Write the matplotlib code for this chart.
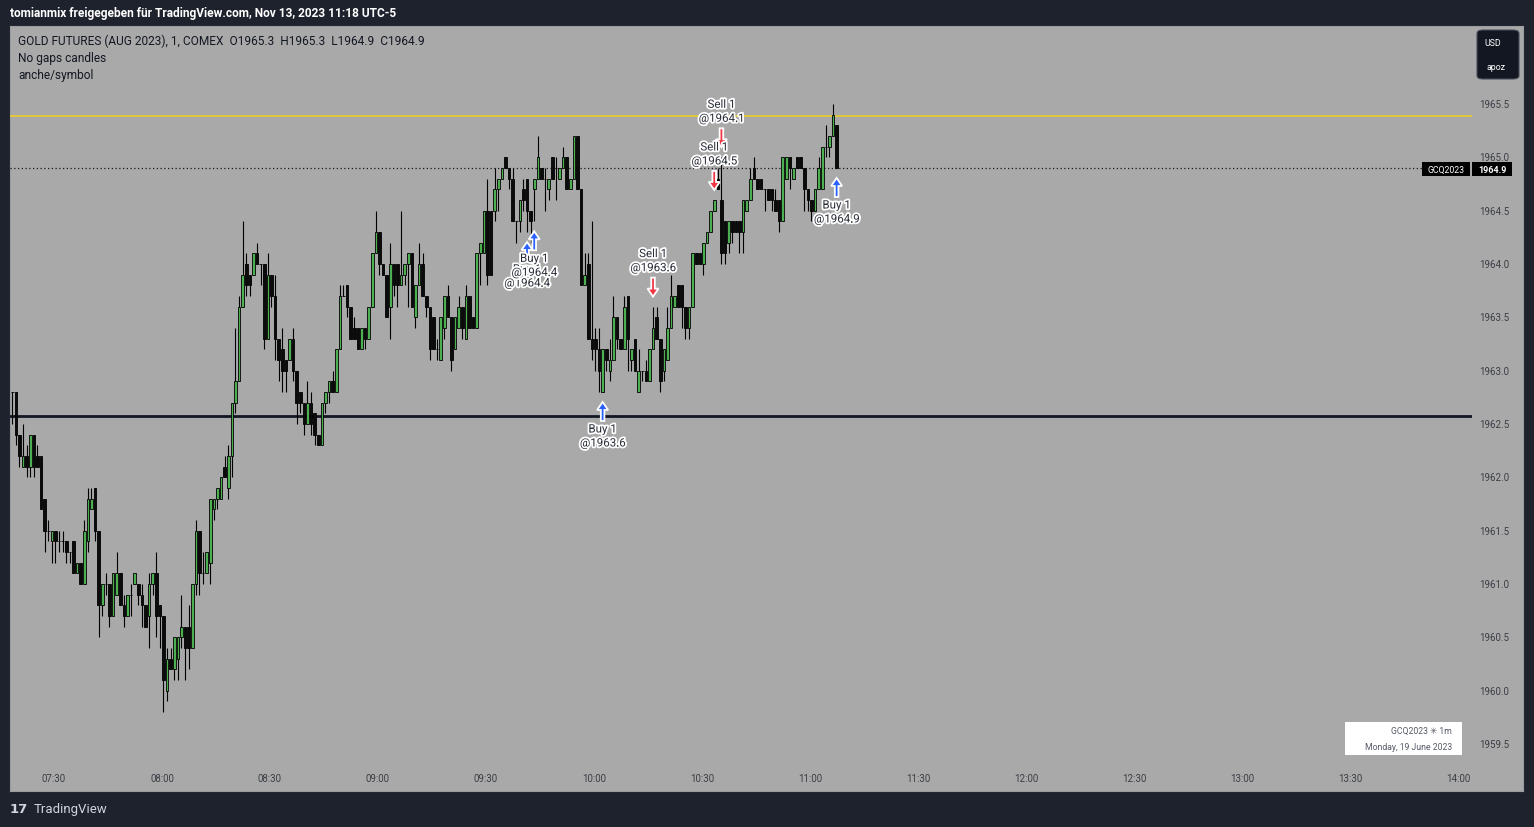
import matplotlib
matplotlib.use("Agg")
import matplotlib.pyplot as plt
import matplotlib.patheffects as pe
from matplotlib.patches import Rectangle, Polygon, FancyBboxPatch
import numpy as np

plt.rcParams['font.family'] = ['Roboto', 'DejaVu Sans']

# ---------------- data (1-minute candles, GCQ2023, 19 June 2023, from 07:18) ----------------
start_minute = -12          # minutes relative to 07:30 of the first candle
opens = [1962.8,1962.8,1962.4,1962.1,1962.2,1962.1,1962.4,1962.2,1962.2,1961.8,
         1961.5,1961.4,1961.5,1961.4,1961.4,1961.4,1961.3,1961.4,1961.1,1961.2,
         1961.0,1961.4,1961.7,1961.9,1961.5,1960.8,1961.0,1961.0,1960.7,1960.9,
         1961.1,1960.8,1960.7,1960.9,1961.0,1961.0,1960.9,1960.8,
         1960.7,1961.0,1961.1,1960.8,1960.7,1960.0,1960.3,1960.2,1960.3,1960.5,
         1960.6,1960.6,1960.4,1961.0,1961.5,1961.1,1961.1,1961.2,1961.7,1961.8,
         1961.8,1962.1,1961.9,1962.2,1962.7,1962.9,1963.6,1964.0,1963.9,1963.9,
         1964.1,1964.0,1964.0,1963.3,1963.9,1963.7,1963.3,1963.2,1963.1,1963.1,
         1963.3,1963.0,1962.8,1962.7,1962.5,1962.7,1962.6,1962.4,1962.3,1962.7,
         1962.8,1962.9,1962.8,1963.2,1963.7,1963.8,1963.6,1963.4,1963.4,1963.2,
         1963.4,1963.3,1963.6,1964.1,1964.3,1964.0,1963.9,1963.6,1964.0,1964.0,
         1963.8,1963.9,1964.0,1964.1,1963.5,1963.8,1964.0,1963.7,1963.6,
         1963.5,1963.2,1963.1,1963.4,1963.7,1963.5,1963.2,1963.4,1963.6,1963.3,
         1963.7,1963.5,1963.4,1964.1,1964.1,1964.5,1964.5,1964.5,1964.7,1964.8,
         1965.0,1964.9,1964.8,1964.4,1964.4,1964.7,1964.8,1964.5,1964.7,1964.8,
         1964.9,1964.8,1964.7,1965.0,1964.9,1964.8,1964.9,1965.0,1964.7,1964.8,
         1965.2,1964.7,1963.8,1964.0,
         1963.3,1963.3,1963.2,1962.8,1963.2,1963.0,1963.1,1963.5,1963.3,1963.2,
         1963.7,1963.1,1963.3,1962.8,1963.0,1963.0,1962.9,1963.2,1963.5,1963.3,
         1963.0,1963.1,1963.4,1963.6,1963.8,1963.8,1963.6,1963.4,1963.6,1964.1,
         1964.1,1964.0,1964.2,1964.3,1964.5,
         1964.8,1964.6,1964.4,1964.2,1964.4,1964.4,1964.4,1964.3,1964.5,1964.6,
         1964.9,1964.8,1964.8,1964.7,1964.7,1964.7,1964.6,1964.6,1964.4,1964.8,
         1965.0,1964.8,1965.0,1965.0,1964.9,1964.7,1964.6,1964.5,1964.7,1964.7,
         1965.1,1965.1,1965.2,1965.3]
highs = [1962.8,1962.8,1962.4,1962.5,1962.3,1962.4,1962.4,1962.3,1962.2,1961.8,
         1961.6,1961.5,1961.5,1961.5,1961.5,1961.4,1961.3,1961.4,1961.2,1961.2,
         1961.6,1961.9,1961.9,1961.9,1961.5,1961.0,1961.1,1961.0,1961.1,1961.3,
         1961.1,1960.9,1960.9,1961.0,1961.1,1961.0,1961.0,1960.8,
         1961.1,1961.1,1961.3,1960.8,1960.7,1960.4,1960.4,1960.5,1960.5,1960.9,
         1960.6,1960.8,1961.0,1961.6,1961.5,1961.3,1961.3,1961.8,1961.8,1961.9,
         1962.0,1962.2,1962.3,1962.7,1963.4,1963.7,1964.4,1964.1,1963.9,1964.1,
         1964.2,1964.0,1964.0,1964.1,1963.9,1963.9,1963.3,1963.4,1963.1,1963.3,
         1963.4,1963.0,1962.8,1962.7,1962.9,1962.8,1962.6,1962.4,1962.7,1962.8,
         1962.9,1963.0,1963.2,1963.8,1963.8,1963.8,1963.6,1963.5,1963.4,1963.4,
         1963.4,1963.6,1964.1,1964.5,1964.3,1964.0,1963.9,1964.2,1964.0,1964.0,
         1964.5,1964.0,1964.1,1964.1,1963.8,1964.2,1964.1,1963.7,1963.6,
         1963.5,1963.3,1963.5,1963.7,1963.8,1963.5,1963.5,1963.7,1963.6,1963.8,
         1963.7,1963.5,1964.1,1964.2,1964.5,1964.8,1964.5,1964.9,1964.8,1964.9,
         1965.0,1964.9,1964.9,1964.4,1964.6,1964.8,1964.8,1964.5,1964.8,1965.2,
         1964.9,1964.9,1964.8,1965.0,1965.0,1964.9,1965.1,1965.0,1964.8,1965.2,
         1965.2,1964.7,1964.1,1964.1,
         1964.4,1963.4,1963.4,1963.2,1963.2,1963.3,1963.7,1963.5,1963.3,1963.7,
         1963.7,1963.2,1963.3,1963.2,1963.0,1963.1,1963.2,1963.6,1963.6,1963.3,
         1963.2,1963.6,1963.9,1963.7,1963.8,1963.8,1963.6,1963.6,1964.1,1964.1,
         1964.1,1964.2,1964.3,1964.5,1964.6,
         1964.9,1965.0,1964.4,1964.4,1964.4,1964.4,1964.4,1964.6,1964.6,1964.9,
         1965.0,1964.8,1964.8,1964.7,1964.7,1964.7,1964.7,1964.6,1965.0,1965.0,
         1965.0,1964.9,1965.0,1965.0,1964.9,1964.7,1964.6,1964.7,1965.0,1965.1,
         1965.3,1965.2,1965.5,1965.3]
lows =  [1962.5,1962.3,1962.1,1962.1,1962.0,1962.0,1962.0,1962.1,1961.7,1961.3,
         1961.4,1961.2,1961.2,1961.3,1961.3,1961.2,1961.2,1961.1,1961.1,1961.0,
         1961.0,1961.3,1961.7,1961.4,1960.5,1960.7,1960.9,1960.6,1960.7,1960.9,
         1960.8,1960.6,1960.7,1960.7,1961.0,1960.8,1960.6,1960.6,
         1960.4,1960.9,1960.5,1960.4,1959.8,1959.9,1960.2,1960.1,1960.1,1960.4,
         1960.1,1960.2,1960.4,1960.9,1960.9,1961.0,1961.1,1961.0,1961.6,1961.7,
         1961.8,1962.0,1961.8,1962.0,1962.6,1962.9,1963.6,1963.7,1963.7,1963.9,
         1964.0,1963.8,1963.2,1963.3,1963.6,1963.1,1962.9,1962.8,1962.8,1963.1,
         1962.9,1962.5,1962.6,1962.4,1962.5,1962.4,1962.3,1962.3,1962.3,1962.6,
         1962.7,1962.8,1962.8,1963.2,1963.7,1963.5,1963.3,1963.3,1963.2,1963.2,
         1963.2,1963.3,1963.6,1964.1,1963.9,1963.9,1963.5,1963.3,1963.7,1963.6,
         1963.8,1963.8,1963.6,1963.6,1963.4,1963.8,1963.7,1963.5,1963.1,
         1963.2,1963.1,1963.1,1963.3,1963.5,1963.0,1963.2,1963.4,1963.3,1963.3,
         1963.4,1963.4,1963.4,1963.8,1964.1,1963.8,1963.9,1964.4,1964.5,1964.8,
         1964.9,1964.7,1964.4,1964.2,1964.3,1964.5,1964.3,1964.2,1964.4,1964.8,
         1964.8,1964.5,1964.6,1964.8,1964.6,1964.8,1964.9,1964.7,1964.7,1964.8,
         1964.7,1963.8,1963.8,1963.3,
         1963.1,1963.0,1962.8,1962.8,1963.0,1962.9,1963.1,1963.2,1963.2,1963.2,
         1963.0,1963.0,1963.0,1962.8,1962.9,1962.9,1962.9,1963.2,1963.3,1962.8,
         1962.9,1963.1,1963.4,1963.6,1963.6,1963.4,1963.3,1963.3,1963.6,1964.0,
         1964.0,1963.9,1964.2,1964.3,1964.5,
         1964.7,1964.0,1964.0,1964.1,1964.2,1964.3,1964.1,1964.1,1964.5,1964.6,
         1964.8,1964.7,1964.7,1964.5,1964.6,1964.5,1964.5,1964.3,1964.4,1964.8,
         1964.7,1964.8,1964.9,1964.9,1964.5,1964.5,1964.4,1964.5,1964.7,1964.7,
         1965.0,1965.0,1965.2,1964.9]
closes = [1962.8,1962.4,1962.2,1962.2,1962.1,1962.4,1962.1,1962.1,1961.7,1961.5,
          1961.5,1961.5,1961.4,1961.4,1961.4,1961.3,1961.3,1961.1,1961.2,1961.0,
          1961.5,1961.8,1961.8,1961.5,1960.8,1961.0,1961.0,1960.7,1961.1,1961.1,
          1960.8,1960.7,1960.9,1960.9,1961.1,1960.9,1960.8,1960.6,
          1961.0,1961.1,1960.7,1960.7,1960.1,1960.3,1960.2,1960.5,1960.5,1960.6,
          1960.4,1960.4,1961.0,1961.5,1961.1,1961.1,1961.3,1961.8,1961.8,1961.9,
          1962.0,1962.0,1962.2,1962.7,1962.9,1963.6,1963.9,1963.8,1963.8,1964.1,
          1964.0,1964.0,1963.3,1963.9,1963.7,1963.3,1963.1,1963.0,1963.0,1963.3,
          1963.0,1962.7,1962.7,1962.5,1962.7,1962.5,1962.4,1962.3,1962.7,1962.8,
          1962.9,1962.8,1963.2,1963.7,1963.7,1963.6,1963.3,1963.3,1963.2,1963.4,
          1963.3,1963.6,1964.1,1964.3,1964.0,1963.9,1963.5,1964.0,1963.8,1963.8,
          1963.9,1964.0,1964.1,1963.6,1963.8,1964.0,1963.7,1963.6,1963.2,
          1963.2,1963.2,1963.5,1963.7,1963.5,1963.1,1963.5,1963.6,1963.4,1963.7,
          1963.4,1963.4,1964.1,1964.2,1964.5,1963.9,1963.9,1964.7,1964.8,1964.9,
          1964.9,1964.8,1964.4,1964.4,1964.6,1964.6,1964.5,1964.4,1964.8,1965.0,
          1964.8,1964.8,1964.8,1964.8,1964.9,1964.9,1965.0,1964.7,1964.8,1965.2,
          1964.7,1963.8,1963.9,1963.3,
          1963.2,1963.2,1963.0,1963.2,1963.1,1963.1,1963.5,1963.3,1963.2,1963.6,
          1963.3,1963.2,1963.0,1963.0,1963.0,1962.9,1963.2,1963.4,1963.3,1962.9,
          1963.2,1963.4,1963.7,1963.7,1963.6,1963.6,1963.4,1963.6,1964.1,1964.0,
          1964.0,1964.2,1964.3,1964.5,1964.6,
          1964.7,1964.1,1964.1,1964.4,1964.3,1964.3,1964.3,1964.6,1964.6,1964.8,
          1964.8,1964.7,1964.7,1964.7,1964.6,1964.6,1964.5,1964.4,1965.0,1965.0,
          1964.9,1964.9,1964.9,1964.9,1964.7,1964.6,1964.5,1964.7,1964.9,1965.1,
          1965.1,1965.2,1965.4,1964.9]

# trade signals: candle index, side, fill price
sig_index = [143, 145, 164, 178, 195, 197, 229]
sig_side  = ['Buy', 'Buy', 'Buy', 'Sell', 'Sell', 'Sell', 'Buy']
sig_price = [1964.4, 1964.4, 1963.6, 1963.6, 1964.5, 1964.1, 1964.9]

level_yellow = 1965.39
level_black = 1962.57
last_price = 1964.9
price_ticks = [1959.5, 1960.0, 1960.5, 1961.0, 1961.5, 1962.0, 1962.5,
               1963.0, 1963.5, 1964.0, 1964.5, 1965.0, 1965.5]
time_ticks = [0, 30, 60, 90, 120, 150, 180, 210, 240, 270, 300, 330, 360, 390]
time_labels = ['07:30', '08:00', '08:30', '09:00', '09:30', '10:00', '10:30',
               '11:00', '11:30', '12:00', '12:30', '13:00', '13:30', '14:00']

# ---------------- layout ----------------
W, H = 1534, 828
DARK = '#1e222d'
PANEL = '#a9a9a9'
fig = plt.figure(figsize=(W / 100, H / 100), dpi=100)
fig.patch.set_facecolor(DARK)

def fx(px):
    return px / W

def fy(py):
    return 1 - py / H

# gray panel
panel = fig.add_axes([fx(10), fy(792), fx(1523) - fx(10), fy(27) - fy(792)])
panel.set_facecolor(PANEL)
panel.set_xticks([]); panel.set_yticks([])
for s in panel.spines.values():
    s.set_color('#9a9ca2'); s.set_linewidth(0.8)

ax = fig.add_axes([fx(10), fy(792), fx(1472) - fx(10), fy(27) - fy(792)])
ax.set_facecolor('none')
x0, x1 = -12.22, 393.9
y0, y1 = 1959.059, 1966.231
ax.set_xlim(x0, x1)
ax.set_ylim(y0, y1)
ax.set_xticks([]); ax.set_yticks([])
for s in ax.spines.values():
    s.set_visible(False)

px_x = (x1 - x0) / (1472 - 10)   # data units per pixel
px_y = (y1 - y0) / (792 - 27)

# horizontal levels
ax.axhline(level_yellow, color='#f2cf1d', lw=1.1, zorder=2)
ax.axhline(level_black, color='#131722', lw=2.0, zorder=2)
ax.plot([x0, x0 + (1422 - 10) * px_x], [last_price, last_price], color='#131722',
        lw=0.9, ls=(0, (1, 2)), zorder=2)

# candles
n = len(closes)
xs = np.arange(n) + start_minute + 0.4
o = np.array(opens); c = np.array(closes); h = np.array(highs); l = np.array(lows)
ax.vlines(xs, l, h, color='#000000', lw=0.8, zorder=3)
up = c > o
body_w = 0.72
bottoms = np.minimum(o, c)
heights = np.abs(c - o)
cols = np.where(up, '#4caf50', '#0b0b0b')
ax.bar(xs, heights, bottom=bottoms, width=body_w, color=cols, edgecolor='#000000',
       linewidth=0.6, zorder=4)

# signals
def arrow(xc, tip, direction, color):
    # polygon in pixel units, tip at (0,0), pointing up (direction=+1) or down (-1)
    pts = [(0, 0), (-5.5, 8), (-1.8, 8), (-1.8, 19), (1.8, 19), (1.8, 8), (5.5, 8)]
    verts = [(xc + px_ * px_x, tip - direction * py_ * px_y) for px_, py_ in pts]
    ax.add_patch(Polygon(verts, closed=True, facecolor=color, edgecolor='white',
                         lw=1.3, zorder=6, joinstyle='miter'))

halo = [pe.withStroke(linewidth=2.6, foreground='white')]
for idx, side, price in zip(sig_index, sig_side, sig_price):
    xc = xs[idx]
    if side == 'Buy':
        tip = lows[idx] - 10 * px_y
        arrow(xc, tip, +1, '#2962ff')
        ax.text(xc, tip - 27 * px_y, f'{side} 1', ha='center', va='center', fontsize=8.3,
                color='#2a2e39', path_effects=halo, zorder=7)
        ax.text(xc, tip - 41 * px_y, f'@{price:.1f}', ha='center', va='center', fontsize=8.3,
                color='#2a2e39', path_effects=halo, zorder=7)
    else:
        tip = highs[idx] + 10 * px_y
        arrow(xc, tip, -1, '#f23645')
        ax.text(xc, tip + 29 * px_y, f'@{price:.1f}', ha='center', va='center',
                fontsize=8.3, color='#2a2e39', path_effects=halo, zorder=7)
        ax.text(xc, tip + 43 * px_y, f'{side} 1', ha='center', va='center',
                fontsize=8.3, color='#2a2e39', path_effects=halo, zorder=7)

# price axis labels
for p in price_ticks:
    ypx = 27 + (y1 - p) / px_y
    fig.text(fx(1479), fy(ypx), f'{p:.1f}', ha='left', va='center', fontsize=7,
             color='#3b3e45')

# time axis labels (clipped at plot edge)
for t, lab in zip(time_ticks, time_labels):
    ax.text(t, y0 + 13 * px_y, lab, ha='center', va='center', fontsize=7,
            color='#3b3e45', clip_on=True)

# last price tags
fig.patches.append(Rectangle((fx(1422), fy(177)), fx(1470) - fx(1422), fy(163) - fy(177),
                             transform=fig.transFigure, facecolor='#000000', edgecolor='none'))
fig.patches.append(Rectangle((fx(1472), fy(177)), fx(1512) - fx(1472), fy(163) - fy(177),
                             transform=fig.transFigure, facecolor='#000000', edgecolor='none'))
fig.text(fx(1446), fy(170.5), 'GCQ2023', ha='center', va='center', fontsize=6.3,
         color='white')
fig.text(fx(1492), fy(170.5), '1964.9', ha='center', va='center', fontsize=6.5,
         color='white', fontweight='bold')

# USD box
fig.patches.append(FancyBboxPatch((fx(1477), fy(80)), fx(1519) - fx(1477), fy(31) - fy(80),
                                  boxstyle='round,pad=0,rounding_size=0.004',
                                  transform=fig.transFigure, facecolor='#131722',
                                  edgecolor='#4a4e5a', lw=0.8))
fig.text(fx(1493), fy(43.5), 'USD', ha='center', va='center', fontsize=6.3, color='white')
fig.text(fx(1496), fy(67.5), 'apoz', ha='center', va='center', fontsize=6.3, color='white')

# info box bottom right
fig.patches.append(Rectangle((fx(1345), fy(756)), fx(1462) - fx(1345), fy(723) - fy(756),
                             transform=fig.transFigure, facecolor='white', edgecolor='none'))
fig.text(fx(1452), fy(731.5), 'GCQ2023 ✳ 1m', ha='right', va='center', fontsize=6.2,
         color='#555a66', family=['Roboto', 'DejaVu Sans'])
fig.text(fx(1452), fy(748), 'Monday, 19 June 2023', ha='right', va='center', fontsize=6.2,
         color='#555a66')

# header texts
fig.text(fx(10), fy(13.5), 'tomianmix freigegeben für TradingView.com, Nov 13, 2023 11:18 UTC-5',
         ha='left', va='center', fontsize=8.6, color='white', fontweight='bold')
fig.text(fx(18), fy(41.5),
         'GOLD FUTURES (AUG 2023), 1, COMEX  O1965.3  H1965.3  L1964.9  C1964.9',
         ha='left', va='center', fontsize=8.6, color='#131722')
fig.text(fx(18), fy(58.5), 'No gaps candles', ha='left', va='center', fontsize=8.6,
         color='#131722')
fig.text(fx(18), fy(75.5), 'anche/symbol', ha='left', va='center', fontsize=8.6,
         color='#131722')

# footer logo
fig.text(fx(10), fy(810), '17', ha='left', va='center', fontsize=9.5, color='#d1d4dc',
         fontweight='heavy', family=['DejaVu Sans'])
fig.text(fx(34), fy(810), 'TradingView', ha='left', va='center', fontsize=9.5,
         color='#d1d4dc')

fig.savefig('out.png', dpi=100, facecolor=fig.get_facecolor())
